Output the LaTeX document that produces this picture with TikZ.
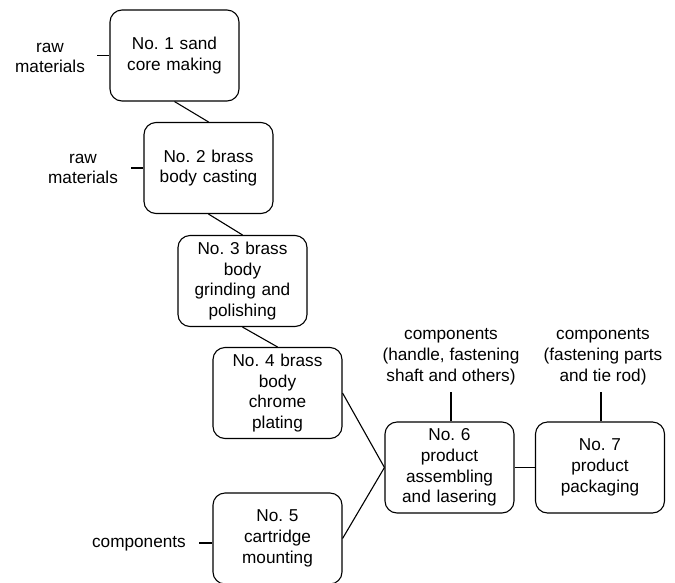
\documentclass[tikz,border=0pt]{standalone}
\usepackage{fontspec}
\setmainfont{Liberation Sans}
\frenchspacing
\begin{document}
\begin{tikzpicture}[x=1pt,y=-1pt,
  stepbox/.style={draw, line width=1.1pt, rounded corners=12pt, minimum width=129pt, minimum height=91pt, inner sep=0pt, text width=125pt, align=center, font=\fontsize{17.2}{20.8}\selectfont},
  lbl/.style={align=center, inner sep=0pt, font=\fontsize{17.2}{20.8}\selectfont},
  conn/.style={line width=1.1pt}]
\useasboundingbox (0,0) rectangle (675,582);
\node[stepbox] (b1) at (174.5,55.5) {No. 1 sand\\core making};
\node[stepbox] (b2) at (208.5,168) {No. 2 brass\\body casting};
\node[stepbox] (b3) at (242.5,281) {No. 3 brass\\body\\grinding and\\polishing};
\node[stepbox] (b4) at (277.5,393) {No. 4 brass\\body\\chrome\\plating};
\node[stepbox] (b5) at (277.5,538.5) {No. 5\\cartridge\\mounting};
\node[stepbox] (b6) at (449.5,467.5) {No. 6\\product\\assembling\\and lasering};
\node[stepbox] (b7) at (600,467.5) {No. 7\\product\\packaging};
\node[lbl] (r1) at (50,58) {raw\\materials};
\node[lbl] (r2) at (83,169) {raw\\materials};
\node[lbl, anchor=east] (c5) at (186,544) {components};
\node[lbl] (c6) at (451,357) {components\\(handle, fastening\\shaft and others)};
\node[lbl] (c7) at (603,357) {components\\(fastening parts\\and tie rod)};
\coordinate (t1) at (97,55.5);
\coordinate (t2) at (131,168);
\coordinate (t5) at (199,543);
\coordinate (t6) at (451,392);
\coordinate (t7) at (601,392);
\draw[conn] (b1.south) -- (b2.north);
\draw[conn] (b2.south) -- (b3.north);
\draw[conn] (b3.south) -- (b4.north);
\draw[conn] (b4.east) -- (b6.west);
\draw[conn] (b5.east) -- (b6.west);
\draw[conn] (b6.east) -- (b7.west);
\draw[conn] (t1) -- (t1 -| b1.west);
\draw[conn] (t2) -- (t2 -| b2.west);
\draw[conn] (t5) -- (t5 -| b5.west);
\draw[conn] (t6) -- (t6 |- b6.north);
\draw[conn] (t7) -- (t7 |- b7.north);
\end{tikzpicture}
\end{document}
